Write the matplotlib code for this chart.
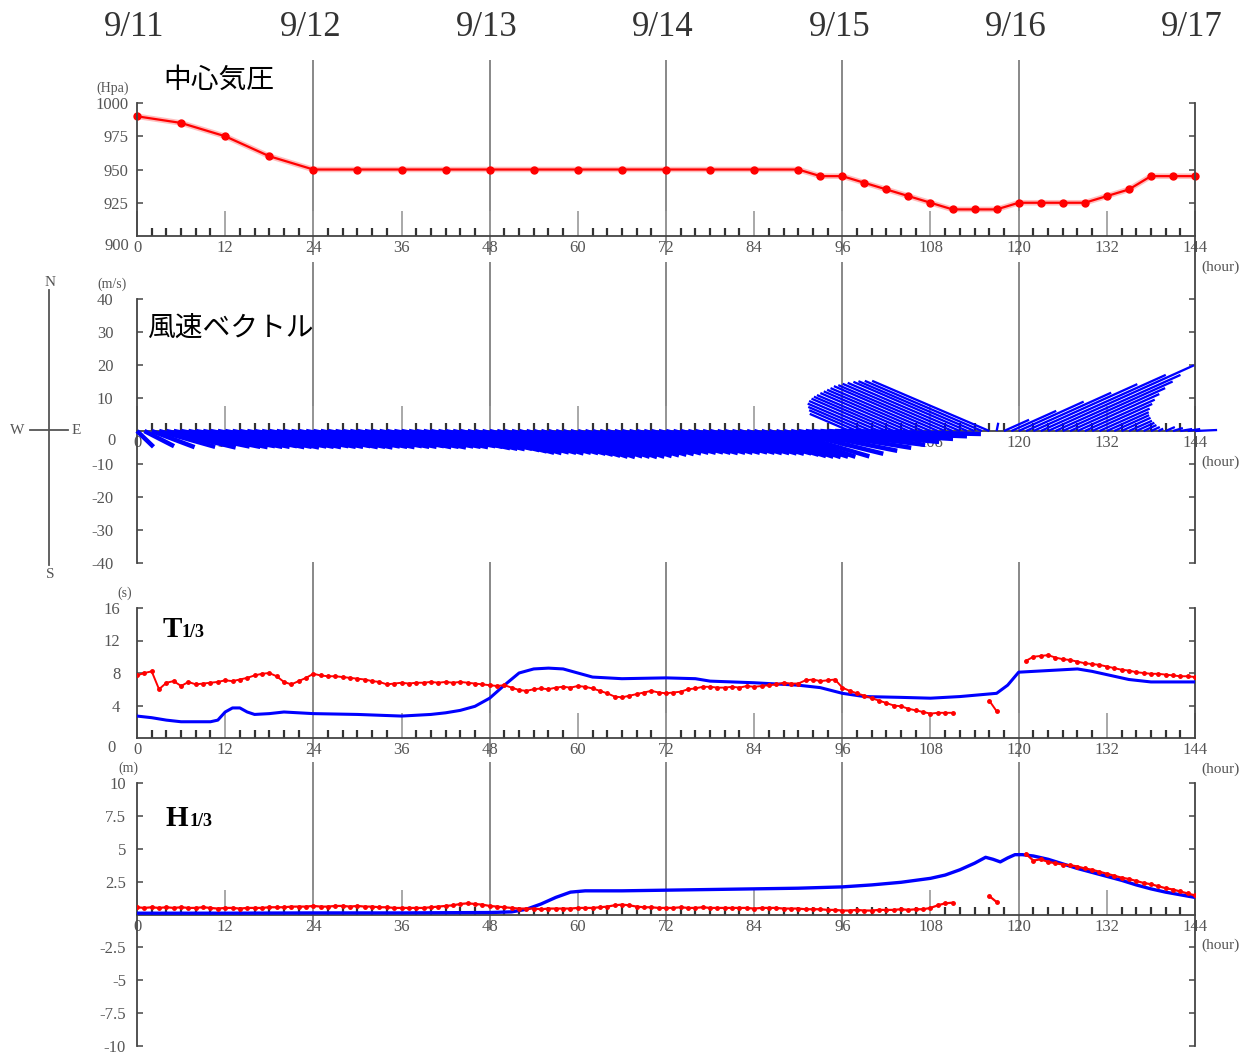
import numpy as np
import matplotlib.pyplot as plt
from matplotlib.lines import Line2D

nan = np.nan

# ---- data -------------------------------------------------------------
day_labels = ['9/11', '9/12', '9/13', '9/14', '9/15', '9/16', '9/17']
day_hours = [0, 24, 48, 72, 96, 120, 144]

# central pressure (hPa)
p_hours = [0, 6, 12, 18, 24, 30, 36, 42, 48, 54, 60, 66, 72, 78, 84, 90,
           93, 96, 99, 102, 105, 108, 111, 114, 117, 120, 123, 126, 129,
           132, 135, 138, 141, 144]
p_hpa = [990, 985, 975, 960, 950, 950, 950, 950, 950, 950, 950, 950, 950,
         950, 950, 950, 945, 945, 940, 935, 930, 925, 920, 920, 920, 925,
         925, 925, 925, 930, 935, 945, 945, 945]

# hourly wind vector components (m/s)
wind_hours = list(range(145))
wind_u = [5, 9, 13, 17, 21, 23] + [24] * 82 + [
    26, 28, 30, 32, 34, 36, 38, 40, 42,
    -12.1, -14.5, -17, -19.4, -21.2, -22.7, -24.2, -25.5, -26.7, -27.9,
    -29.1, -30.3, -31.5, -32.4, -33.3, -34, -34.5, -35.2, -35.5, -35.5,
    0.5,
    7.6, 13.6, 19.7, 25.8, 31.5, 37.9, 44.2, 37.9, 33.3, 28.8, 24.8,
    21.2, 18.2, 15.2, 12.7, 10.6, 8.8, 7.0, 5.5, 3.9, 2.7, 1.5,
    2.8, 3.0, 3.6, 3.8, 6.7]
wind_v = ([-4.8, -4.6, -4.9, -4.8, -5.0, -4.7, -4.8, -4.9, -4.6, -4.8] * 4
          + [-5.2, -5.4, -5.5, -5.4, -5.8, -6.2]
          + [-6.6, -6.7, -6.5, -6.6, -6.8, -6.6, -6.7, -6.9, -7.2, -7.5]
          + [-7.8, -7.9, -7.7, -7.8, -7.9, -7.8, -7.6, -7.4]
          + [-7.2, -7.0, -6.8, -6.6, -6.6, -6.5, -6.6, -6.7, -6.6, -6.6]
          + [-6.6, -6.5, -6.6, -6.7, -6.7, -6.8, -6.9, -6.8, -7.2, -7.6,
             -7.8, -7.9, -7.8, -7.8]
          + [-7.7, -6.9, -6.0, -5.1, -4.2, -3.3, -2.4, -1.6, -0.9,
             5.2, 6.3, 7.3, 8.3, 9.1, 9.8, 10.4, 10.9, 11.5, 12.0,
             12.5, 13.0, 13.6, 13.9, 14.3, 14.6, 14.9, 15.1, 15.2, 15.2,
             2.5,
             3.4, 6.1, 8.9, 11.6, 14.2, 17.0, 19.9, 17.0, 15.0, 13.0, 11.2,
             9.5, 8.2, 6.8, 5.7, 4.8, 4.0, 3.1, 2.5, 1.8, 1.2, 0.7,
             1.2, 0.9, 0.6, 0.6, 0.3])

# significant wave period T1/3 (s): model (blue) and observed hourly (red)
tm_hours = [0, 2, 4, 6, 8, 10, 11, 12, 13, 14, 15, 16, 18, 20, 24, 30, 36,
            40, 42, 44, 46, 48, 50, 52, 54, 56, 58, 60, 62, 66, 72, 76, 78,
            84, 90, 93, 96, 99, 104, 108, 112, 117, 118.5, 120, 124, 128,
            130, 132, 135, 138, 144]
tm_model = [2.7, 2.5, 2.2, 2.0, 2.0, 2.0, 2.2, 3.2, 3.7, 3.7, 3.2, 2.9, 3.0,
            3.2, 3.0, 2.9, 2.7, 2.9, 3.1, 3.4, 3.9, 4.9, 6.5, 8.0, 8.5, 8.6,
            8.5, 8.0, 7.5, 7.3, 7.4, 7.3, 7.0, 6.8, 6.5, 6.2, 5.5, 5.1, 5.0,
            4.9, 5.1, 5.5, 6.5, 8.1, 8.3, 8.5, 8.2, 7.8, 7.2, 6.9, 6.9]
obs_hours = list(range(145))
t_obs = [7.7, 8.0, 8.2, 6.0, 6.8, 7.0, 6.4, 6.9, 6.6, 6.7,
         6.8, 6.9, 7.1, 7.0, 7.2, 7.4, 7.7, 7.9, 8.0, 7.6,
         6.9, 6.6, 7.0, 7.4, 7.9, 7.7, 7.6, 7.6, 7.5, 7.4,
         7.3, 7.2, 7.0, 6.9, 6.6, 6.7, 6.8, 6.7, 6.8, 6.8,
         6.9, 6.8, 6.9, 6.8, 6.9, 6.8, 6.7, 6.6, 6.5, 6.4,
         6.5, 6.2, 5.9, 5.8, 6.0, 6.1, 6.0, 6.2, 6.3, 6.2,
         6.4, 6.3, 6.1, 5.8, 5.5, 5.1, 5.0, 5.2, 5.4, 5.6,
         5.8, 5.6, 5.5, 5.6, 5.7, 6.0, 6.1, 6.3, 6.3, 6.2,
         6.2, 6.3, 6.2, 6.4, 6.3, 6.4, 6.5, 6.6, 6.8, 6.7,
         6.7, 7.1, 7.2, 7.0, 7.1, 7.2, 6.2, 5.8, 5.5, 5.2,
         4.9, 4.6, 4.3, 4.0, 3.9, 3.6, 3.4, 3.2, 3.0, 3.1,
         3.1, 3.1, nan, nan, nan, nan, 4.6, 3.3, nan, nan,
         nan, 9.5, 10.0, 10.1, 10.2, 9.9, 9.7, 9.6, 9.4, 9.2,
         9.1, 9.0, 8.8, 8.6, 8.4, 8.3, 8.1, 8.0, 7.9, 7.9,
         7.8, 7.7, 7.6, 7.6, 7.5]

# significant wave height H1/3 (m)
hm_hours = [0, 12, 24, 36, 48, 51, 53, 55, 57, 59, 61, 66, 72, 78, 84, 90,
            96, 100, 104, 108, 110, 112, 114, 115.5, 116.5, 117.5, 118.5,
            119.5, 120.5, 122, 124, 126, 128, 130, 132, 134, 136, 138, 140,
            142, 144]
hm_model = [0.1, 0.1, 0.12, 0.12, 0.15, 0.2, 0.4, 0.8, 1.3, 1.7, 1.8, 1.8,
            1.85, 1.9, 1.95, 2.0, 2.1, 2.25, 2.45, 2.75, 3.0, 3.4, 3.9,
            4.35, 4.2, 4.0, 4.3, 4.55, 4.55, 4.45, 4.2, 3.85, 3.5, 3.2, 2.9,
            2.6, 2.25, 1.95, 1.7, 1.5, 1.3]
h_obs = [0.55, 0.5, 0.55, 0.5, 0.55, 0.5, 0.55, 0.5, 0.5, 0.55,
         0.5, 0.45, 0.5, 0.5, 0.45, 0.5, 0.5, 0.5, 0.55, 0.55,
         0.55, 0.6, 0.6, 0.6, 0.65, 0.6, 0.6, 0.65, 0.65, 0.6,
         0.65, 0.6, 0.6, 0.55, 0.55, 0.5, 0.5, 0.5, 0.5, 0.5,
         0.55, 0.6, 0.65, 0.7, 0.8, 0.85, 0.8, 0.75, 0.65, 0.6,
         0.55, 0.5, 0.45, 0.45, 0.45, 0.4, 0.45, 0.45, 0.45, 0.45,
         0.5, 0.5, 0.5, 0.55, 0.6, 0.7, 0.75, 0.7, 0.6, 0.55,
         0.55, 0.5, 0.5, 0.5, 0.55, 0.5, 0.5, 0.55, 0.5, 0.5,
         0.5, 0.5, 0.5, 0.5, 0.45, 0.5, 0.5, 0.5, 0.45, 0.45,
         0.45, 0.4, 0.4, 0.4, 0.35, 0.35, 0.3, 0.3, 0.35, 0.3,
         0.3, 0.35, 0.35, 0.35, 0.4, 0.35, 0.4, 0.4, 0.5, 0.7,
         0.85, 0.9, nan, nan, nan, nan, 1.4, 0.95, nan, nan,
         nan, 4.6, 4.1, 4.2, 4.0, 3.9, 3.8, 3.75, 3.65, 3.5,
         3.4, 3.25, 3.1, 2.95, 2.8, 2.7, 2.55, 2.4, 2.3, 2.15,
         2.0, 1.9, 1.75, 1.6, 1.45]

# ---- layout (pixel geometry of the reference) ---------------------------
W, H = 1250, 1057
X0, X1 = 137, 1195
SERIF = 'Liberation Serif'
CJK = ['Noto Sans CJK JP', 'DejaVu Sans']
GRAY = '#555555'
RED = '#ff0000'
BLUE = '#0000ff'

fig = plt.figure(figsize=(W / 100, H / 100), dpi=100)


def add_panel(top, bottom):
    return fig.add_axes([X0 / W, 1 - bottom / H, (X1 - X0) / W, (bottom - top) / H])


def style_panel(ax, top, bottom, ylim, yticks, ylabels, x_axis_at, left_span,
                right_span, ypad, line_span):
    ax.set_xlim(0, 144)
    ax.set_ylim(*ylim)
    ax.patch.set_alpha(0)
    ax.spines['top'].set_visible(False)
    for side in ('left', 'right', 'bottom'):
        ax.spines[side].set_color('#444444')
        ax.spines[side].set_linewidth(1.3)
    ax.spines['bottom'].set_position(('data', x_axis_at))
    ax.spines['bottom'].set_bounds(0, 144)
    ax.spines['left'].set_bounds(*left_span)
    ax.spines['right'].set_bounds(*right_span)

    ax.set_xticks(np.arange(0, 145, 12))
    ax.set_xticks(np.arange(0, 145, 2), minor=True)
    ax.tick_params(axis='x', which='major', direction='in', length=18,
                   width=1.2, color='#999999', labelsize=12,
                   labelcolor=GRAY, pad=3)
    ax.tick_params(axis='x', which='minor', direction='in', length=6,
                   width=1.6, color='#333333')
    ax.set_yticks(yticks)
    ax.set_yticklabels(ylabels)
    ax.tick_params(axis='y', direction='in', length=4, width=1.2,
                   color='#555555', left=True, right=True, labelsize=12,
                   labelcolor=GRAY, pad=ypad)
    for lab in ax.get_xticklabels() + ax.get_yticklabels():
        lab.set_fontfamily(SERIF)

    # day separator lines
    span = bottom - top
    ax.vlines(day_hours[1:-1], (bottom - line_span[1]) / span,
              (bottom - line_span[0]) / span, transform=ax.get_xaxis_transform(),
              colors='#888888', linewidth=1.4, clip_on=False, zorder=1)

    ax.annotate('(hour)', xy=(144, x_axis_at), xytext=(25, -31),
                textcoords='offset pixels', ha='center', va='center',
                fontsize=11, color=GRAY, family=SERIF, annotation_clip=False)


def side_label(ax, text, x_axis_at, dx):
    ax.annotate(text, xy=(0, x_axis_at), xytext=(-dx, -10),
                textcoords='offset pixels', ha='right', va='center',
                fontsize=12, color=GRAY, family=SERIF, annotation_clip=False)


def unit_label(ax, text, dx):
    ax.annotate(text, xy=(0, 1), xycoords='axes fraction', xytext=(dx, 15),
                textcoords='offset pixels', ha='center', va='center',
                fontsize=10, color=GRAY, family=SERIF, annotation_clip=False)


# panel 1: central pressure
ax1 = add_panel(103, 236)
style_panel(ax1, 103, 236, (900, 1000), [925, 950, 975, 1000],
            ['925', '950', '975', '1000'], 900, (900, 1000), (900, 1000),
            6, (60, 255))
side_label(ax1, '900', 900, 8)
unit_label(ax1, '(Hpa)', -24)
ax1.plot(p_hours, p_hpa, color=RED, lw=4, alpha=0.25, clip_on=False)
ax1.plot(p_hours, p_hpa, color=RED, lw=1.6, marker='o', ms=5, clip_on=False)
for h, lab in zip(day_hours, day_labels):
    ax1.annotate(lab, xy=(h, 1), xycoords=('data', 'axes fraction'),
                 xytext=(-3, 75), textcoords='offset pixels', ha='center',
                 va='center', fontsize=25, color='#333333', family=SERIF,
                 annotation_clip=False)

# panel 2: wind vectors (stick plot); southward sticks drawn heavier
ax2 = add_panel(299, 563)
style_panel(ax2, 299, 563, (-40, 40), [-40, -30, -20, -10, 10, 20, 30, 40],
            ['-40', '-30', '-20', '-10', '10', '20', '30', '40'], 0,
            (-40, 40), (-40, 59), 17, (262, 431))
side_label(ax2, '0', 0, 21)
unit_label(ax2, '(m/s)', -25)
wh = np.array(wind_hours, dtype=float)
wu = np.array(wind_u, dtype=float)
wv = np.array(wind_v, dtype=float)
south = wv < 0
for mask, width in [(south, 4.5), (~south, 2.3)]:
    ax2.quiver(wh[mask], np.zeros(mask.sum()), wu[mask], wv[mask],
               angles='uv', scale_units='y', scale=1, pivot='tail',
               color=BLUE, units='dots', width=width, headwidth=0,
               headlength=0, headaxislength=0, minlength=0, zorder=3,
               clip_on=False)

# panel 3: T1/3
ax3 = add_panel(608, 738)
style_panel(ax3, 608, 738, (0, 16), [4, 8, 12, 16], ['4', '8', '12', '16'],
            0, (0, 16), (0, 16), 12, (562, 757))
side_label(ax3, '0', 0, 21)
unit_label(ax3, '(s)', -12)
ax3.plot(tm_hours, tm_model, color=BLUE, lw=2.2, zorder=3)
ax3.plot(obs_hours, t_obs, color=RED, lw=1.4, marker='o', ms=2.5, zorder=4)

# panel 4: H1/3
ax4 = add_panel(783, 1046)
style_panel(ax4, 783, 1046, (-10, 10), [-10, -7.5, -5, -2.5, 2.5, 5, 7.5, 10],
            ['-10', '-7.5', '-5', '-2.5', '2.5', '5', '7.5', '10'], 0,
            (-10, 10), (-10, 10), 8, (762, 930))
unit_label(ax4, '(m)', -9)
ax4.plot(hm_hours, hm_model, color=BLUE, lw=2.4, zorder=3)
ax4.plot(obs_hours, h_obs, color=RED, lw=1.6, marker='o', ms=2.5, zorder=4)

# panel titles
fig.text(163 / W, 1 - 80 / H, '中心気圧', fontsize=20, family=CJK,
         ha='left', va='center')
fig.text(147 / W, 1 - 328 / H, '風速ベクトル', fontsize=20, family=CJK,
         ha='left', va='center')
for x, y, main in [(163, 637, 'T'), (166, 826, 'H')]:
    fig.text(x / W, 1 - y / H, main, fontsize=21, fontweight='bold',
             family=SERIF, ha='left', va='baseline')
    fig.text((x + (19 if main == 'T' else 24)) / W, 1 - y / H, '1/3',
             fontsize=13, fontweight='bold', family=SERIF, ha='left',
             va='baseline')

# compass for the wind panel
fig.add_artist(Line2D([49 / W, 49 / W], [1 - 290 / H, 1 - 565 / H],
                      color='#555555', lw=1.3))
fig.add_artist(Line2D([30 / W, 68 / W], [1 - 430 / H, 1 - 430 / H],
                      color='#555555', lw=1.3))
for x, y, lab in [(50, 282, 'N'), (50, 574, 'S'), (17, 430, 'W'), (76, 430, 'E')]:
    fig.text(x / W, 1 - y / H, lab, fontsize=11, color=GRAY, family=SERIF,
             ha='center', va='center')

fig.savefig('out.png', dpi=100)
